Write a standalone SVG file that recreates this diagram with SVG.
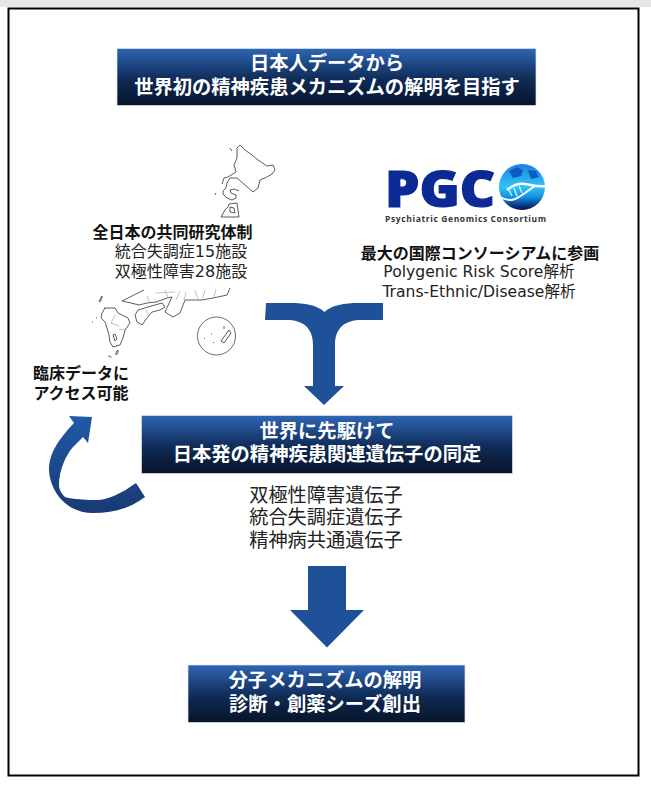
<svg xmlns="http://www.w3.org/2000/svg" width="651" height="789" viewBox="0 0 651 789">
<style>
.ttl{font-family:"Noto Sans CJK JP",sans-serif;font-weight:700;font-size:19.300px;fill:#fff;text-anchor:middle}
.b{font-family:"Noto Sans CJK JP",sans-serif;font-weight:700;font-size:16px;fill:#111;text-anchor:middle}
.r{font-family:"DejaVu Sans","Noto Sans CJK JP",sans-serif;font-size:15.600px;fill:#222;text-anchor:middle}
.s{font-size:16px}
.g{font-family:"Noto Sans CJK JP",sans-serif;font-size:19.200px;fill:#222;text-anchor:middle}
.box{fill:url(#bg);stroke:#dfe6f0;stroke-width:.7}
.map{fill:none;stroke:#333;stroke-width:.8;stroke-linejoin:round}
.map2{fill:none;stroke:#999;stroke-width:.6}
.arr{fill:#1f5199}
</style>
<defs>
<linearGradient id="bg" x1="0" y1="0" x2="0" y2="1"><stop offset="0" stop-color="#2e66b5"/><stop offset=".55" stop-color="#0f2a55"/><stop offset="1" stop-color="#061429"/></linearGradient>
<linearGradient id="cv" x1="0" y1="0" x2="0" y2="1"><stop offset="0" stop-color="#2159a8"/><stop offset="1" stop-color="#183a74"/></linearGradient>
<linearGradient id="gl" x1="0" y1="0" x2="0" y2="1"><stop offset="0" stop-color="#1c7fe0"/><stop offset=".5" stop-color="#2fc4f7"/><stop offset=".72" stop-color="#1290e0"/><stop offset="1" stop-color="#020a50"/></linearGradient>
</defs>
<rect width="651" height="789" fill="#fff"/>
<rect width="651" height="7" fill="#e6e6e6"/>
<rect x="8.500" y="8.500" width="630" height="767" fill="#fff" stroke="#000" stroke-width="2"/>
<g id="map">
<path class="map" d="M237 148l3-3 5 5 7 5 6 5 9 6 6-1 2 5-3 4-5 3-7 3-2 8-5 4-8-7-8-7-7 0-3 5-1 5-3 3 0 3 4 4 5 2 4-2 0-3-5-2-1-3 4-1 5 2M237 148l0 10-3 7 2 7-8 5-4 1-2 6"/>
<path class="map" d="M230 148l2 3M216 193l-1 2"/>
<path class="map" d="M221 217l4-7 3-3 1-3 8-1 2 14zM230 207l4 1 1 5-5-1z"/>
<path class="map" d="M230 288l-3 7-14 3-11 2-9 0-8 0-5 13-7 4-8-5 7-15-5 1-11 4-9 1-8 2-8-2-9-2 10-5 12-6"/>
<path class="map" d="M135 315l3-5 10-3 14-4 3 4-5 3-8 2-5 6-5 7-5-3z"/>
<path class="map" d="M105 308l10 0 3 5 10 5 2 5-5 7-2 8-3 7-7 2-3-5-1-7-2-7-2-6-4-4 1-5zM113 335l2 6 2-2-2-5z"/>
<path class="map2" d="M147 296l3 7M165 290l3 8M186 292l-2 8M205 290l-3 10M115 315l-4 8 8 3M119 329l6 1M146 310l3 7M152 312l6-2M155 293l20-1M176 300l4-9M195 290l3 9M216 289l-2 8"/>
<path class="map" d="M99 301l3-5 0 2-2 4zM104 308h1M92 322h1M96 318h1M108 357c1-2 3-1 3 1M116 352l2-2 0 3-2 2z"/>
<circle cx="216.500" cy="336" r="19" fill="none" stroke="#444" stroke-width=".8"/>
<path class="map" d="M224 326l0 3M229 330l-8 11 3 2 7-10z"/>
<path class="map" d="M211 334h1M204 338l1 1M213 342l1 1"/>
</g>
<g id="pgc">
<text x="385" y="207" font-family="'Open Sans','DejaVu Sans',sans-serif" font-weight="800" font-size="50" fill="#0b2a95" stroke="#0b2a95" stroke-width="1.200" textLength="110" lengthAdjust="spacingAndGlyphs">PGC</text>
<circle cx="522" cy="187" r="23" fill="url(#gl)"/>
<path d="M509 171l8-4 6 3-2 6-8 2zM528 170l8 1 3 6-8 2z" fill="#0c5cc0"/>
<path d="M507 190c6-5 12-7 18-6 7 1 13 3 20 2" fill="none" stroke="#fff" stroke-width="2.500"/>
<path d="M500 197c5 3 10 4 15 2 7-3 12-8 20-13" fill="none" stroke="#fff" stroke-width="2"/>
<path d="M509 190l3 6M514 188l3 8M519 186l3 7" stroke="#bff0ff" stroke-width="1.500"/>
<text x="465.500" y="222" font-family="'Open Sans',sans-serif" font-weight="700" font-size="8.500" fill="#333" text-anchor="middle" textLength="161">Psychiatric Genomics Consortium</text>
</g>
<g id="connectors">
<path class="arr" d="M266 303h24c15 0 27 2 34.500 9 7.500-7 19.500-9 34.500-9h24v17h-22c-15 0-26 7-26 25v41h9l-20 19-20-19h9v-41c0-18-11-25-26-25h-22z"/>
<path class="arr" d="M308 566h38v44h18l-37 37.500-37-37.500h18z"/>
<path fill="url(#cv)" d="M92 417L69 416L74 423C60 438 49 452 49 470C50 490 65 513 93 513C115 513 132 507 145 497L136 483C122 493 108 500 97 500C80 500 68 498 65 497C60 492 59 488 59 485C59 470 66 455 73 447L83 437L88 443Z"/>
</g>
<g id="n1"><rect class="box" x="117" y="48.500" width="419" height="57"/><text class="ttl" x="327" y="70">日本人データから</text><text class="ttl" x="327" y="94">世界初の精神疾患メカニズムの解明を目指す</text></g>
<g id="l1"><text class="b" x="172.500" y="238">全日本の共同研究体制</text><text class="r s" x="181" y="257">統合失調症15施設</text><text class="r s" x="181" y="277">双極性障害28施設</text></g>
<g id="l2"><text class="b" x="480" y="259">最大の国際コンソーシアムに参画</text><text class="r" x="479" y="277">Polygenic Risk Score解析</text><text class="r" x="479" y="297">Trans-Ethnic/Disease解析</text></g>
<g id="l3"><text class="b" x="81" y="379">臨床データに</text><text class="b" x="81" y="399">アクセス可能</text></g>
<g id="n2"><rect class="box" x="141.500" y="415.500" width="371" height="58"/><text class="ttl" x="327" y="438">世界に先駆けて</text><text class="ttl" x="327" y="461">日本発の精神疾患関連遺伝子の同定</text></g>
<g id="l4"><text class="g" x="326" y="502">双極性障害遺伝子</text><text class="g" x="326" y="524">統合失調症遺伝子</text><text class="g" x="326" y="547">精神病共通遺伝子</text></g>
<g id="n3"><rect class="box" x="188" y="665" width="277" height="57.500"/><text class="ttl" x="325" y="687">分子メカニズムの解明</text><text class="ttl" x="325" y="711">診断・創薬シーズ創出</text></g>
</svg>
